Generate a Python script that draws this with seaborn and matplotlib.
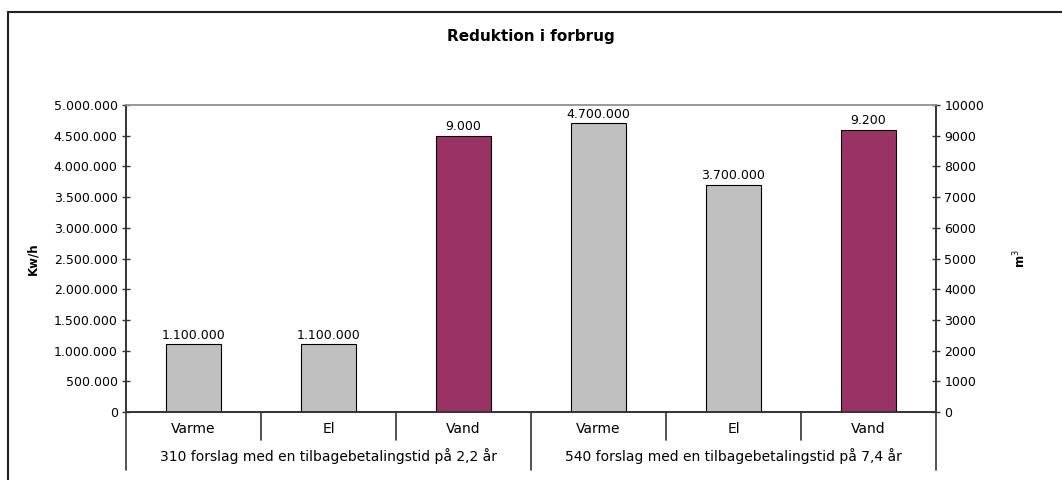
import pandas as pd
import numpy as np
import seaborn as sns
import matplotlib.pyplot as plt
from matplotlib.lines import Line2D

# data
grupper = ["310 forslag med en tilbagebetalingstid på 2,2 år",
           "540 forslag med en tilbagebetalingstid på 7,4 år"]
kategorier = ["Varme", "El", "Vand", "Varme", "El", "Vand"]
noegler = ["g1_varme", "g1_el", "g1_vand", "g2_varme", "g2_el", "g2_vand"]
kwh = [1100000, 1100000, np.nan, 4700000, 3700000, np.nan]   # Kw/h (venstre akse)
m3 = [np.nan, np.nan, 9000, np.nan, np.nan, 9200]              # m3 (hoejre akse)

tabela = pd.DataFrame({"noegle": noegler, "kwh": kwh, "m3": m3})

sns.set_style("white")
plt.rcParams["font.family"] = ["DejaVu Sans"]
plt.rcParams["text.color"] = "black"
plt.rcParams["axes.labelcolor"] = "black"

fig = plt.figure(figsize=(10.62, 4.8), dpi=100)
ax = fig.add_axes([126/1062, 1-412/480, 810/1062, 307/480])
ax2 = ax.twinx()

graa = "#C0C0C0"
lilla = "#993366"
sns.barplot(data=tabela.dropna(subset=["kwh"]), x="noegle", y="kwh", order=noegler,
            color=graa, edgecolor="black", linewidth=0.8, width=0.41, saturation=1, ax=ax)
sns.barplot(data=tabela.dropna(subset=["m3"]), x="noegle", y="m3", order=noegler,
            color=lilla, edgecolor="black", linewidth=0.8, width=0.41, saturation=1, ax=ax2)

def fmt_dk(v):
    return f"{v:,.0f}".replace(",", ".")

# vaerdier over soejlerne
for a in (ax, ax2):
    for bar in a.patches:
        h = bar.get_height()
        if np.isnan(h):
            continue
        a.annotate(fmt_dk(h), (bar.get_x() + bar.get_width()/2, h),
                   xytext=(0, 2), textcoords="offset points",
                   ha="center", va="bottom", fontsize=9)

ax.set_xlim(-0.5, 5.5)
ax.set_ylim(0, 5000000)
ax2.set_ylim(0, 10000)
ax.set_yticks(np.arange(0, 5000001, 500000))
ax.set_yticklabels([fmt_dk(v) for v in np.arange(0, 5000001, 500000)])
ax2.set_yticks(np.arange(0, 10001, 1000))
ax2.set_yticklabels([str(v) for v in np.arange(0, 10001, 1000)])

for a in (ax, ax2):
    a.set_xticks([])
    a.set_xlabel("")
    a.spines["top"].set_color("#999999")
    a.spines["top"].set_linewidth(1.2)
    for s in ("left", "right", "bottom"):
        a.spines[s].set_color("#333333")
        a.spines[s].set_linewidth(1.2)
    a.tick_params(axis="y", direction="inout", length=6, width=1, colors="#333333",
                  labelcolor="black", labelsize=9, pad=3)
    a.tick_params(axis="y", left=(a is ax), right=(a is ax2))

ax.set_ylabel("Kw/h", fontsize=8.5, fontweight="bold", labelpad=10)
ax2.set_ylabel("m$^3$", fontsize=8.5, fontweight="bold", labelpad=20)

# kategori-akse under grafen
trans = ax.get_xaxis_transform()
for i, k in enumerate(kategorier):
    ax.text(i, -17/307, k, transform=trans, ha="center", va="center", fontsize=10)
for j, g in enumerate(grupper):
    ax.text(j*3 + 1, -44/307, g, transform=trans, ha="center", va="center", fontsize=10)
for x in np.arange(-0.5, 6, 1):
    lang = x in (-0.5, 2.5, 5.5)
    y0 = -58/307 if lang else -28/307
    ax.add_line(Line2D([x, x], [0.0, y0], transform=trans, color="#333333",
                       lw=1.2, clip_on=False))

fig.suptitle("Reduktion i forbrug", y=1-37/480, va="center", fontsize=11, fontweight="bold")

# ramme om figuren
fig.add_artist(Line2D([8/1062, 1], [1-12/480, 1-12/480], color="#222222", lw=1.5))
fig.add_artist(Line2D([8/1062, 8/1062], [0, 1-12/480], color="#222222", lw=1.5))

fig.savefig("out.png", dpi=100)
